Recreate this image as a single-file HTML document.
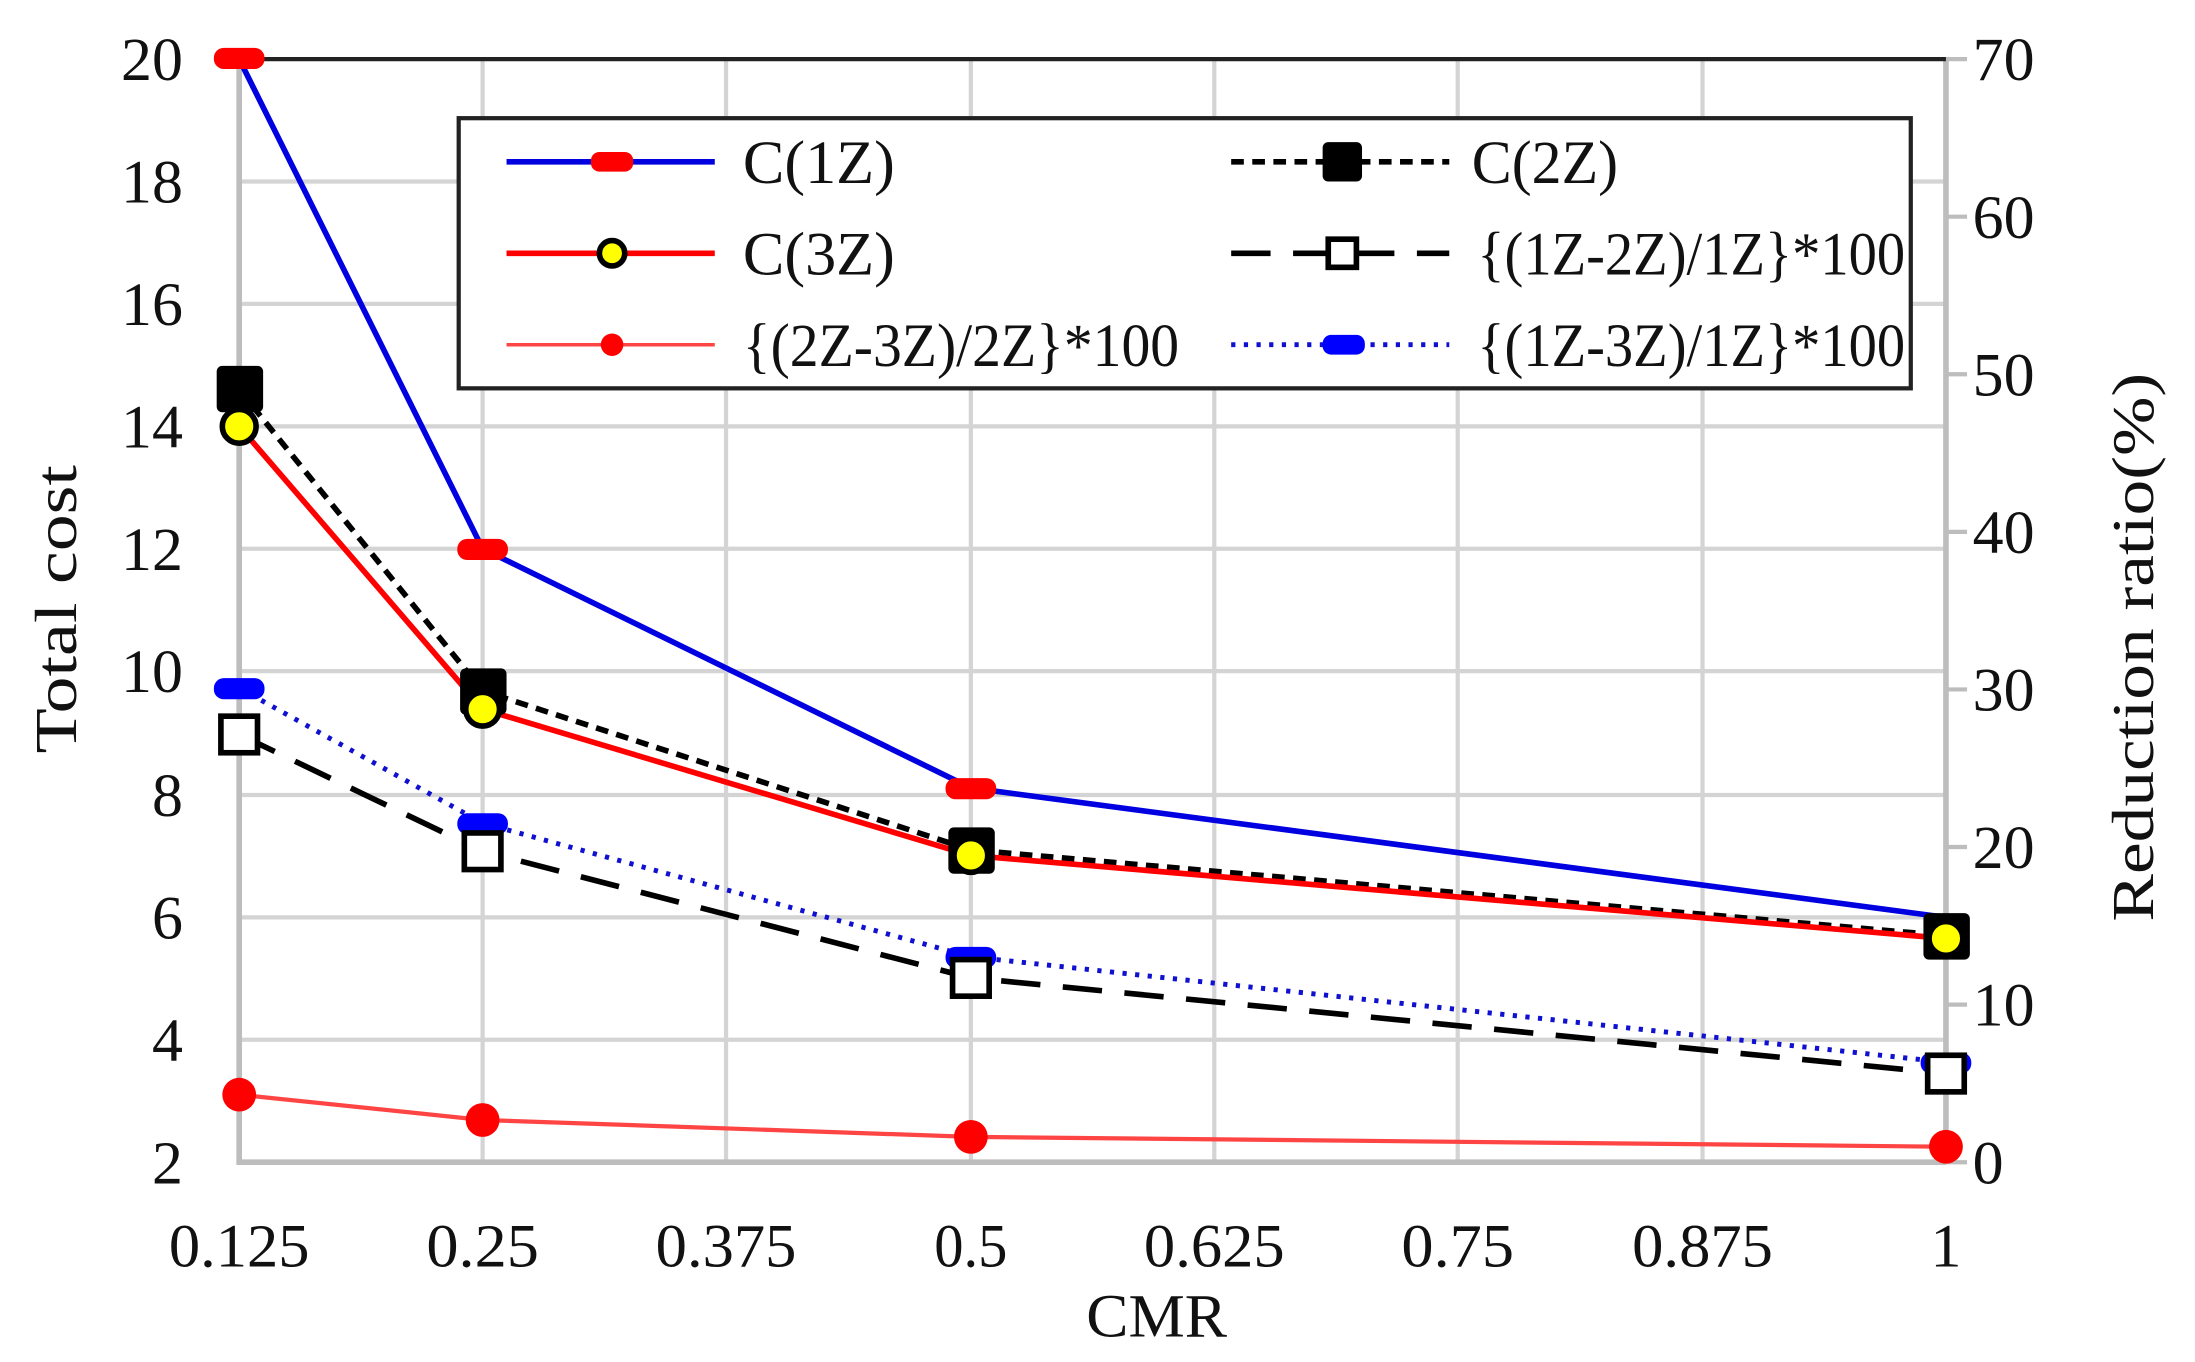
<!DOCTYPE html>
<html><head><meta charset="utf-8"><style>
html,body{margin:0;padding:0;background:#fff;}
svg{display:block;}
text{font-family:"Liberation Serif",serif;fill:#111;}
</style></head><body>
<svg width="2195" height="1362" viewBox="0 0 1560 968" preserveAspectRatio="none" xmlns="http://www.w3.org/2000/svg">
<rect width="1560" height="968" fill="#fff"/>
<g stroke="#d4d4d4" stroke-width="3">
<line x1="170" y1="129" x2="1383" y2="129"/><line x1="170" y1="216" x2="1383" y2="216"/>
<line x1="170" y1="303" x2="1383" y2="303"/><line x1="170" y1="390" x2="1383" y2="390"/>
<line x1="170" y1="477" x2="1383" y2="477"/><line x1="170" y1="565" x2="1383" y2="565"/>
<line x1="170" y1="652" x2="1383" y2="652"/><line x1="170" y1="739" x2="1383" y2="739"/>
<line x1="343" y1="42" x2="343" y2="826"/><line x1="516" y1="42" x2="516" y2="826"/>
<line x1="690" y1="42" x2="690" y2="826"/><line x1="863" y1="42" x2="863" y2="826"/>
<line x1="1036" y1="42" x2="1036" y2="826"/><line x1="1210" y1="42" x2="1210" y2="826"/>
</g>
<g stroke="#bdbdbd" stroke-width="4">
<line x1="170" y1="42" x2="170" y2="826"/>
<line x1="168" y1="826" x2="1383" y2="826"/>
<line x1="1383" y1="42" x2="1383" y2="826"/>
</g>
<g stroke="#bdbdbd" stroke-width="3">
<line x1="1383" y1="42" x2="1398" y2="42"/><line x1="1383" y1="154" x2="1398" y2="154"/>
<line x1="1383" y1="266" x2="1398" y2="266"/><line x1="1383" y1="378" x2="1398" y2="378"/>
<line x1="1383" y1="490" x2="1398" y2="490"/><line x1="1383" y1="602" x2="1398" y2="602"/>
<line x1="1383" y1="714" x2="1398" y2="714"/><line x1="1383" y1="826" x2="1398" y2="826"/>
</g>
<line x1="170" y1="42" x2="1383" y2="42" stroke="#222" stroke-width="3"/>
<g font-size="44" text-anchor="end">
<text x="130" y="57">20</text><text x="130" y="144">18</text><text x="130" y="231">16</text>
<text x="130" y="318">14</text><text x="130" y="405">12</text><text x="130" y="492">10</text>
<text x="130" y="580">8</text><text x="130" y="667">6</text><text x="130" y="754">4</text><text x="130" y="841">2</text>
</g>
<g font-size="44" text-anchor="start" fill="#222">
<text x="1402" y="57">70</text><text x="1402" y="169">60</text><text x="1402" y="281">50</text>
<text x="1402" y="393">40</text><text x="1402" y="505">30</text><text x="1402" y="617">20</text>
<text x="1402" y="729">10</text><text x="1402" y="841">0</text>
</g>
<g font-size="44" text-anchor="middle">
<text x="170" y="900" textLength="100" lengthAdjust="spacingAndGlyphs">0.125</text>
<text x="343" y="900" textLength="80" lengthAdjust="spacingAndGlyphs">0.25</text>
<text x="516" y="900" textLength="100" lengthAdjust="spacingAndGlyphs">0.375</text>
<text x="690" y="900" textLength="52" lengthAdjust="spacingAndGlyphs">0.5</text>
<text x="863" y="900" textLength="100" lengthAdjust="spacingAndGlyphs">0.625</text>
<text x="1036" y="900" textLength="80" lengthAdjust="spacingAndGlyphs">0.75</text>
<text x="1210" y="900" textLength="100" lengthAdjust="spacingAndGlyphs">0.875</text>
<text x="1383" y="900">1</text>
<text x="822" y="950" textLength="100" lengthAdjust="spacingAndGlyphs">CMR</text>
</g>
<text font-size="42" text-anchor="middle" transform="translate(54,433) rotate(-90)" textLength="205" lengthAdjust="spacingAndGlyphs">Total cost</text>
<text font-size="42" text-anchor="middle" transform="translate(1530,460) rotate(-90)" textLength="390" lengthAdjust="spacingAndGlyphs" fill="#333">Reduction ratio(%)</text>
<polyline points="170,42 343,390 690,560 1383,652" fill="none" stroke="#0000e0" stroke-width="4"/>
<polyline points="170,277 343,491 690,604 1383,665" fill="none" stroke="#000" stroke-width="4" stroke-dasharray="9,6"/>
<polyline points="170,303 343,504 690,608 1383,667" fill="none" stroke="#f00" stroke-width="4"/>
<polyline points="170,522 343,605 690,695 1383,763" fill="none" stroke="#000" stroke-width="4" stroke-dasharray="28,16"/>
<polyline points="170,489 343,585 690,680 1383,755" fill="none" stroke="#1010d0" stroke-width="3.5" stroke-dasharray="3,6"/>
<polyline points="170,778 343,796 690,808 1383,815" fill="none" stroke="#f44" stroke-width="3"/>
<g fill="#f00"><rect x="152" y="34" width="36" height="15" rx="7"/><rect x="325" y="383" width="36" height="15" rx="7"/><rect x="672" y="553" width="36" height="15" rx="7"/></g>
<g fill="#00f"><rect x="152" y="482" width="36" height="15" rx="7"/><rect x="325" y="578" width="36" height="15" rx="7"/><rect x="672" y="673" width="36" height="15" rx="7"/><rect x="1365" y="748" width="36" height="15" rx="7"/></g>
<g fill="#000"><rect x="154" y="260" width="33" height="33" rx="4"/><rect x="327" y="475" width="33" height="33" rx="4"/><rect x="674" y="588" width="33" height="33" rx="4"/><rect x="1367" y="649" width="33" height="33" rx="4"/></g>
<g fill="#ff0" stroke="#000" stroke-width="4"><circle cx="170" cy="303" r="12"/><circle cx="343" cy="504" r="12"/><circle cx="690" cy="608" r="12"/><circle cx="1383" cy="667" r="12"/></g>
<g fill="#fff" stroke="#000" stroke-width="4"><rect x="157" y="509" width="26" height="26"/><rect x="330" y="592" width="26" height="26"/><rect x="677" y="682" width="26" height="26"/><rect x="1370" y="750" width="26" height="26"/></g>
<g fill="#f00"><circle cx="170" cy="778" r="12"/><circle cx="343" cy="796" r="12"/><circle cx="690" cy="808" r="12"/><circle cx="1383" cy="815" r="12"/></g>
<rect x="326" y="84" width="1032" height="192" fill="#fff" stroke="#222" stroke-width="3"/>
<line x1="360" y1="115" x2="508" y2="115" stroke="#0000e0" stroke-width="4"/><rect x="420" y="108" width="30" height="14" rx="6" fill="#f00"/>
<line x1="360" y1="180" x2="508" y2="180" stroke="#f00" stroke-width="4"/><circle cx="435" cy="180" r="9" fill="#ff0" stroke="#000" stroke-width="4"/>
<line x1="360" y1="245" x2="508" y2="245" stroke="#f44" stroke-width="2.5"/><circle cx="435" cy="245" r="8" fill="#f00"/>
<line x1="875" y1="115" x2="1030" y2="115" stroke="#000" stroke-width="4" stroke-dasharray="9,6"/><rect x="940" y="101" width="28" height="28" rx="4" fill="#000"/>
<line x1="875" y1="180" x2="1030" y2="180" stroke="#000" stroke-width="4" stroke-dasharray="28,16"/><rect x="944" y="170" width="20" height="20" fill="#fff" stroke="#000" stroke-width="4"/>
<line x1="875" y1="245" x2="1030" y2="245" stroke="#1010d0" stroke-width="3.5" stroke-dasharray="3,6"/><rect x="940" y="238" width="30" height="14" rx="6" fill="#00f"/>
<g font-size="44">
<text x="528" y="130" textLength="108" lengthAdjust="spacingAndGlyphs">C(1Z)</text>
<text x="528" y="195" textLength="108" lengthAdjust="spacingAndGlyphs">C(3Z)</text>
<text x="528" y="260" textLength="310" lengthAdjust="spacingAndGlyphs">{(2Z-3Z)/2Z}*100</text>
<text x="1046" y="130" textLength="104" lengthAdjust="spacingAndGlyphs">C(2Z)</text>
<text x="1050" y="195" textLength="304" lengthAdjust="spacingAndGlyphs">{(1Z-2Z)/1Z}*100</text>
<text x="1050" y="260" textLength="304" lengthAdjust="spacingAndGlyphs">{(1Z-3Z)/1Z}*100</text>
</g>
</svg>
</body></html>
